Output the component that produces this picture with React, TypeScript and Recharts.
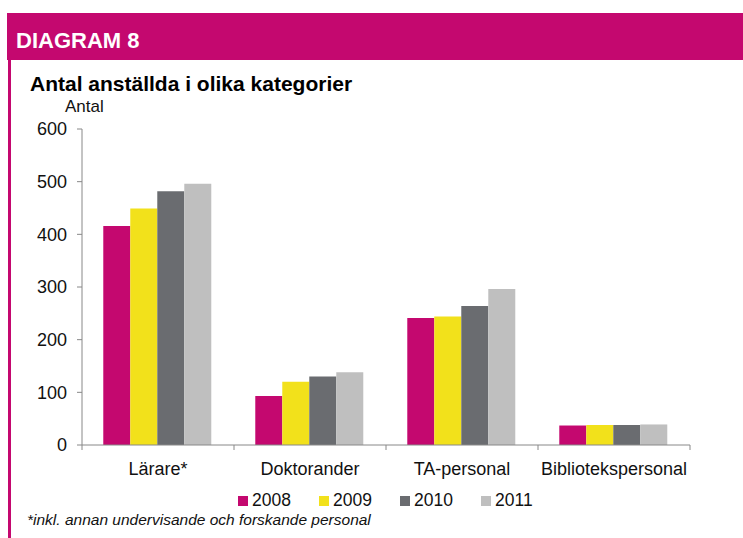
import { BarChart, Bar, XAxis, YAxis } from 'recharts'

const categories = ['Lärare*', 'Doktorander', 'TA-personal', 'Bibliotekspersonal']
const years = ['2008', '2009', '2010', '2011']
const v2008 = [416, 93, 241, 37]
const v2009 = [449, 120, 244, 38]
const v2010 = [482, 130, 264, 38]
const v2011 = [496, 138, 296, 39]
const yTicks = [0, 100, 200, 300, 400, 500, 600]
const colors = ['#C4086F', '#F2E11B', '#6A6C70', '#BFBFBF']

const series = [v2008, v2009, v2010, v2011]
const data = categories.map((name, i) => {
  const row: Record<string, string | number> = { name }
  years.forEach((yr, s) => { row[yr] = series[s][i] })
  return row
})

const MAGENTA = '#C4086F'
const AXIS = '#888888'
const PLOT_LEFT = 82
const PLOT_RIGHT = 690
const BAND = (PLOT_RIGHT - PLOT_LEFT) / categories.length

// category ticks sit on the band edges, labels in the middle
const CatTick = (props: any) => {
  const { x, y, payload, index, visibleTicksCount } = props
  return (
    <g>
      <line x1={x - BAND / 2} y1={y} x2={x - BAND / 2} y2={y + 5} stroke={AXIS} />
      {index === visibleTicksCount - 1 && (
        <line x1={x + BAND / 2} y1={y} x2={x + BAND / 2} y2={y + 5} stroke={AXIS} />
      )}
      <text x={x} y={y + 17} dy="0.71em" textAnchor="middle" fontSize={18} fill="#111">
        {payload.value}
      </text>
    </g>
  )
}

const App = () => {
  return (
    <div
      style={{
        position: 'absolute',
        left: 0,
        top: 0,
        width: 743,
        height: 538,
        background: '#fff',
        fontFamily: '"Liberation Sans", Arial, sans-serif',
      }}
    >
      <svg width={743} height={538} style={{ position: 'absolute', left: 0, top: 0 }}>
        <rect x={7} y={13} width={736} height={47} fill={MAGENTA} />
        <rect x={8} y={60} width={3} height={478} fill={MAGENTA} />
        <text x={16} y={48} fill="#fff" fontSize={22} fontWeight="bold">DIAGRAM 8</text>
        <text x={30} y={91} fill="#000" fontSize={21} fontWeight="bold">
          Antal anställda i olika kategorier
        </text>
        <text x={65} y={112} fill="#111" fontSize={17}>Antal</text>
        {years.map((yr, i) => (
          <g key={yr}>
            <rect x={238 + i * 81} y={496} width={10} height={10} fill={colors[i]} />
            <text x={252 + i * 81} y={506} fontSize={17.5} fill="#111">{yr}</text>
          </g>
        ))}
        <text x={27} y={525} fontSize={15.5} fontStyle="italic" fill="#111">
          *inkl. annan undervisande och forskande personal
        </text>
      </svg>
      <div style={{ position: 'absolute', left: 0, top: 0 }}>
        <BarChart
          width={743}
          height={538}
          data={data}
          margin={{ top: 129, right: 743 - PLOT_RIGHT, left: PLOT_LEFT - 60, bottom: 63 }}
          barCategoryGap="14%"
          barGap={0}
        >
          <XAxis
            dataKey="name"
            height={30}
            interval={0}
            tickSize={0}
            tickMargin={0}
            tickLine={false}
            axisLine={{ stroke: AXIS }}
            tick={<CatTick />}
          />
          <YAxis
            width={60}
            domain={[0, 600]}
            ticks={yTicks}
            tickSize={5}
            tickMargin={10}
            axisLine={{ stroke: AXIS }}
            tickLine={{ stroke: AXIS }}
            tick={{ fontSize: 18, fill: '#111' }}
          />
          {years.map((yr, i) => (
            <Bar key={yr} dataKey={yr} fill={colors[i]} isAnimationActive={false} />
          ))}
        </BarChart>
      </div>
    </div>
  )
}

export default App
